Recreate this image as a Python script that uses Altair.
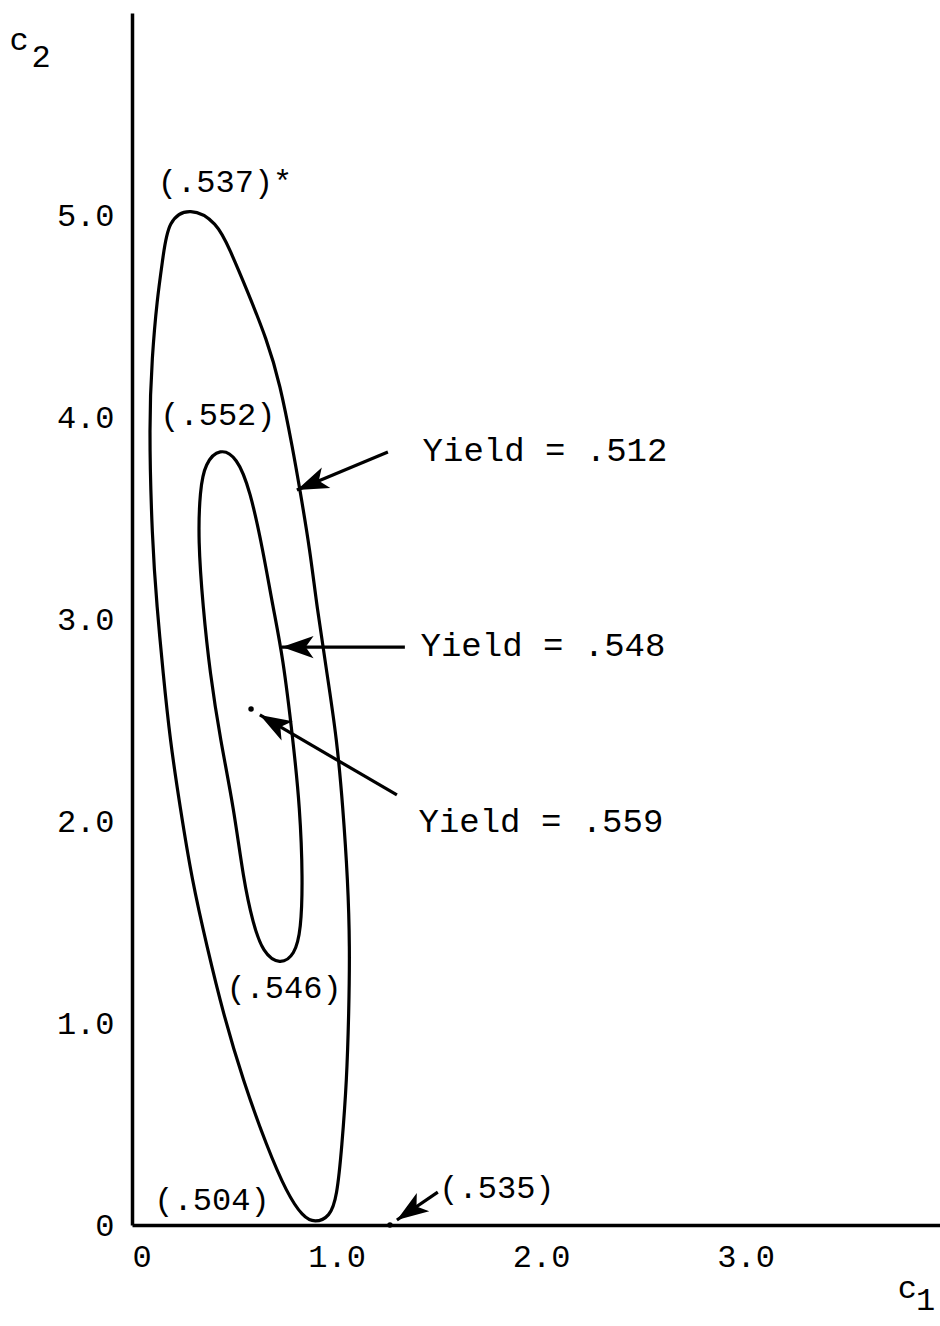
import math
import altair as alt
import pandas as pd

# ---- data ----
outer_c1 = [0.283, 0.415, 0.479, 0.562, 0.660, 0.723, 0.787, 0.821, 0.870, 0.904,
            0.953, 1.002, 1.031, 1.055, 1.065, 1.060, 1.050, 1.026, 1.002, 0.967,
            0.894, 0.835, 0.757, 0.660, 0.542, 0.445, 0.367, 0.293, 0.235, 0.186,
            0.152, 0.122, 0.098, 0.083, 0.098, 0.122, 0.152, 0.176]
outer_c2 = [5.040, 4.965, 4.827, 4.629, 4.381, 4.168, 3.837, 3.639, 3.342, 3.059,
            2.733, 2.401, 2.069, 1.708, 1.376, 1.050, 0.718, 0.386, 0.139, 0.040,
            0.010, 0.040, 0.158, 0.386, 0.718, 1.050, 1.376, 1.708, 2.069, 2.401,
            2.733, 3.059, 3.391, 3.970, 4.297, 4.579, 4.792, 4.975]

inner_c1 = [0.430, 0.513, 0.577, 0.640, 0.689, 0.738, 0.787, 0.821, 0.835, 0.826,
            0.796, 0.723, 0.640, 0.591, 0.545, 0.497, 0.432, 0.381, 0.347, 0.323,
            0.332, 0.357]
inner_c2 = [3.847, 3.802, 3.639, 3.342, 3.059, 2.812, 2.401, 2.069, 1.708, 1.460,
            1.337, 1.287, 1.347, 1.495, 1.708, 2.069, 2.401, 2.733, 3.059, 3.391,
            3.639, 3.772]

point_c1 = [0.582, 1.261]
point_c2 = [2.554, 0.000]

arrow_tail_c1 = [1.251, 1.334, 1.295, 1.495]
arrow_tail_c2 = [3.827, 2.861, 2.129, 0.163]
arrow_head_c1 = [0.806, 0.733, 0.625, 1.295]
arrow_head_c2 = [3.639, 2.861, 2.525, 0.025]

label_text = ["(.537)*", "(.552)", "(.546)", "(.504)", "(.535)",
              "Yield = .512", "Yield = .548", "Yield = .559"]
label_c1 = [0.455, 0.420, 0.743, 0.391, 1.784, 2.019, 2.009, 1.999]
label_c2 = [5.163, 4.010, 1.173, 0.124, 0.183, 3.832, 2.866, 1.995]
label_size = [32, 32, 32, 32, 32, 34, 34, 34]

axis_sym_text = ["c", "2", "c", "1"]
axis_sym_c1 = [-0.552, -0.445, 3.790, 3.880]
axis_sym_c2 = [5.866, 5.782, -0.310, -0.370]

x_ticks = [0, 1, 2, 3]
y_ticks = [0, 1, 2, 3, 4, 5]

# ---- layout ----
X_DOMAIN = [0, 3.95]
Y_DOMAIN = [0, 6.0]
W, H = 808, 1212
SX = W / (X_DOMAIN[1] - X_DOMAIN[0])
SY = H / (Y_DOMAIN[1] - Y_DOMAIN[0])
FONT = "Liberation Mono"

curves = pd.concat([
    pd.DataFrame({"c1": outer_c1, "c2": outer_c2, "curve": "outer",
                  "idx": range(len(outer_c1))}),
    pd.DataFrame({"c1": inner_c1, "c2": inner_c2, "curve": "inner",
                  "idx": range(len(inner_c1))}),
])

angles = []
for tx, ty, hx, hy in zip(arrow_tail_c1, arrow_tail_c2, arrow_head_c1, arrow_head_c2):
    a = math.degrees(math.atan2(-(hy - ty) * SY, (hx - tx) * SX)) % 360
    angles.append(a)
arrows = pd.DataFrame({"tx": arrow_tail_c1, "ty": arrow_tail_c2,
                       "hx": arrow_head_c1, "hy": arrow_head_c2, "angle": angles})
points = pd.DataFrame({"c1": point_c1, "c2": point_c2})
labels = pd.DataFrame({"text": label_text, "c1": label_c1, "c2": label_c2,
                       "fs": label_size})
syms = pd.DataFrame({"text": axis_sym_text, "c1": axis_sym_c1, "c2": axis_sym_c2})

xscale = alt.Scale(domain=X_DOMAIN, nice=False, zero=False)
yscale = alt.Scale(domain=Y_DOMAIN, nice=False, zero=False)
lab_expr = "datum.value == 0 ? '0' : format(datum.value, '.1f')"

xaxis = alt.Axis(values=x_ticks, labelExpr=lab_expr, title=None, ticks=False, grid=False,
                 domainColor="black", domainWidth=3.5, labelFont=FONT, labelFontSize=32,
                 labelColor="black", labelPadding=16)
yaxis = alt.Axis(values=y_ticks, labelExpr=lab_expr, title=None, ticks=False, grid=False,
                 domainColor="black", domainWidth=3.5, labelFont=FONT, labelFontSize=32,
                 labelColor="black", labelPadding=18)

base_curves = alt.Chart(curves).mark_line(
    interpolate="basis-closed", color="black", strokeWidth=3.2
).encode(
    x=alt.X("c1:Q", scale=xscale, axis=xaxis),
    y=alt.Y("c2:Q", scale=yscale, axis=yaxis),
    detail="curve:N",
    order="idx:Q",
)

shafts = alt.Chart(arrows).mark_rule(color="black", strokeWidth=3.2).encode(
    x="tx:Q", y="ty:Q", x2="hx:Q", y2="hy:Q")

heads = alt.Chart(arrows).mark_point(
    shape="M0,0L-2,-0.7L-1.5,0L-2,0.7Z", filled=True, color="black", opacity=1, size=1000,
    strokeWidth=0
).encode(x="hx:Q", y="hy:Q", angle=alt.Angle("angle:Q", scale=None))

dots = alt.Chart(points).mark_point(filled=True, color="black", opacity=1, size=30).encode(
    x="c1:Q", y="c2:Q")

texts = alt.Chart(labels).mark_text(font=FONT, color="black",
                                    align="center", baseline="middle").encode(
    x="c1:Q", y="c2:Q", text="text:N", size=alt.Size("fs:Q", scale=None))

sym_texts = alt.Chart(syms).mark_text(font=FONT, fontSize=32, color="black",
                                      align="center", baseline="middle").encode(
    x="c1:Q", y="c2:Q", text="text:N")

chart = alt.layer(base_curves, shafts, heads, dots, texts, sym_texts).properties(
    width=W, height=H,
    autosize=alt.AutoSizeParams(type="none"),
    padding={"left": 132, "top": 13, "right": 0, "bottom": 101},
    background="white",
).configure_view(stroke=None)

chart.save("out.html", embed_options={"renderer": "svg", "actions": False})
